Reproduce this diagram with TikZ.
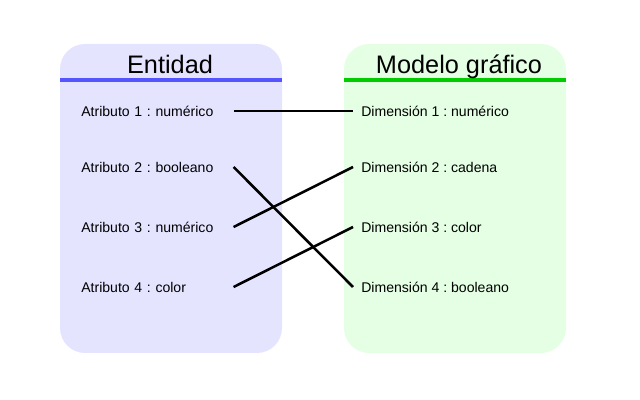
\documentclass[tikz,border=0pt]{standalone}
\usepackage{fontspec}
\setmainfont{Liberation Sans}
\usetikzlibrary{positioning}
\frenchspacing
\definecolor{entfill}{HTML}{E4E4FF}
\definecolor{entline}{HTML}{5555FF}
\definecolor{modfill}{HTML}{E4FFE4}
\definecolor{modline}{HTML}{00CC00}
\tikzset{
    panel/.style = {rounded corners=0.625cm, draw=none},
    title/.style = {font=\fontsize{18}{21}\selectfont, inner sep=0pt, anchor=base},
    attr/.style = {anchor=west, inner xsep=0pt, text width=3.8cm, align=left,
        font=\fontsize{10}{12}\selectfont},
    dim/.style = {anchor=west, inner xsep=0.2cm,
        font=\fontsize{10}{12}\selectfont},
    link/.style = {draw, line width=1.8pt, black}
}

\begin{document}
\begin{tikzpicture}[x=0.025cm, y=-0.025cm]
            \useasboundingbox (0,0) rectangle (640,400);
            % panels
            \fill[panel, fill=entfill] (60,44) rectangle (282,353);
            \fill[panel, fill=modfill] (344,44) rectangle (566,353);
            \draw[entline, line width=2.2pt] (60,80) -- (282,80);
            \draw[modline, line width=2.2pt] (344,80) -- (566,80);
            \node [title] (ent) at (170,74) {Entidad};
            \node [title] (mod) at (459,74) {Modelo gráfico};
            % attributes
            \node [attr] (a1) at (81,111) {Atributo 1 : numérico};
            \node [attr] (a2) at (81,167) {Atributo 2 : booleano};
            \node [attr] (a3) at (81,227) {Atributo 3 : numérico};
            \node [attr] (a4) at (81,287) {Atributo 4 : color};
            % dimensions
            \node [dim] (d1) at (353,111) {Dimensión 1 : numérico};
            \node [dim] (d2) at (353,167) {Dimensión 2 : cadena};
            \node [dim] (d3) at (353,227) {Dimensión 3 : color};
            \node [dim] (d4) at (353,287) {Dimensión 4 : booleano};
            \draw[link] (a1.east) -- (d1.west);
            \draw[link] (a2.east) -- (d4.west);
            \draw[link] (a3.east) -- (d2.west);
            \draw[link] (a4.east) -- (d3.west);
        \end{tikzpicture}
\end{document}
